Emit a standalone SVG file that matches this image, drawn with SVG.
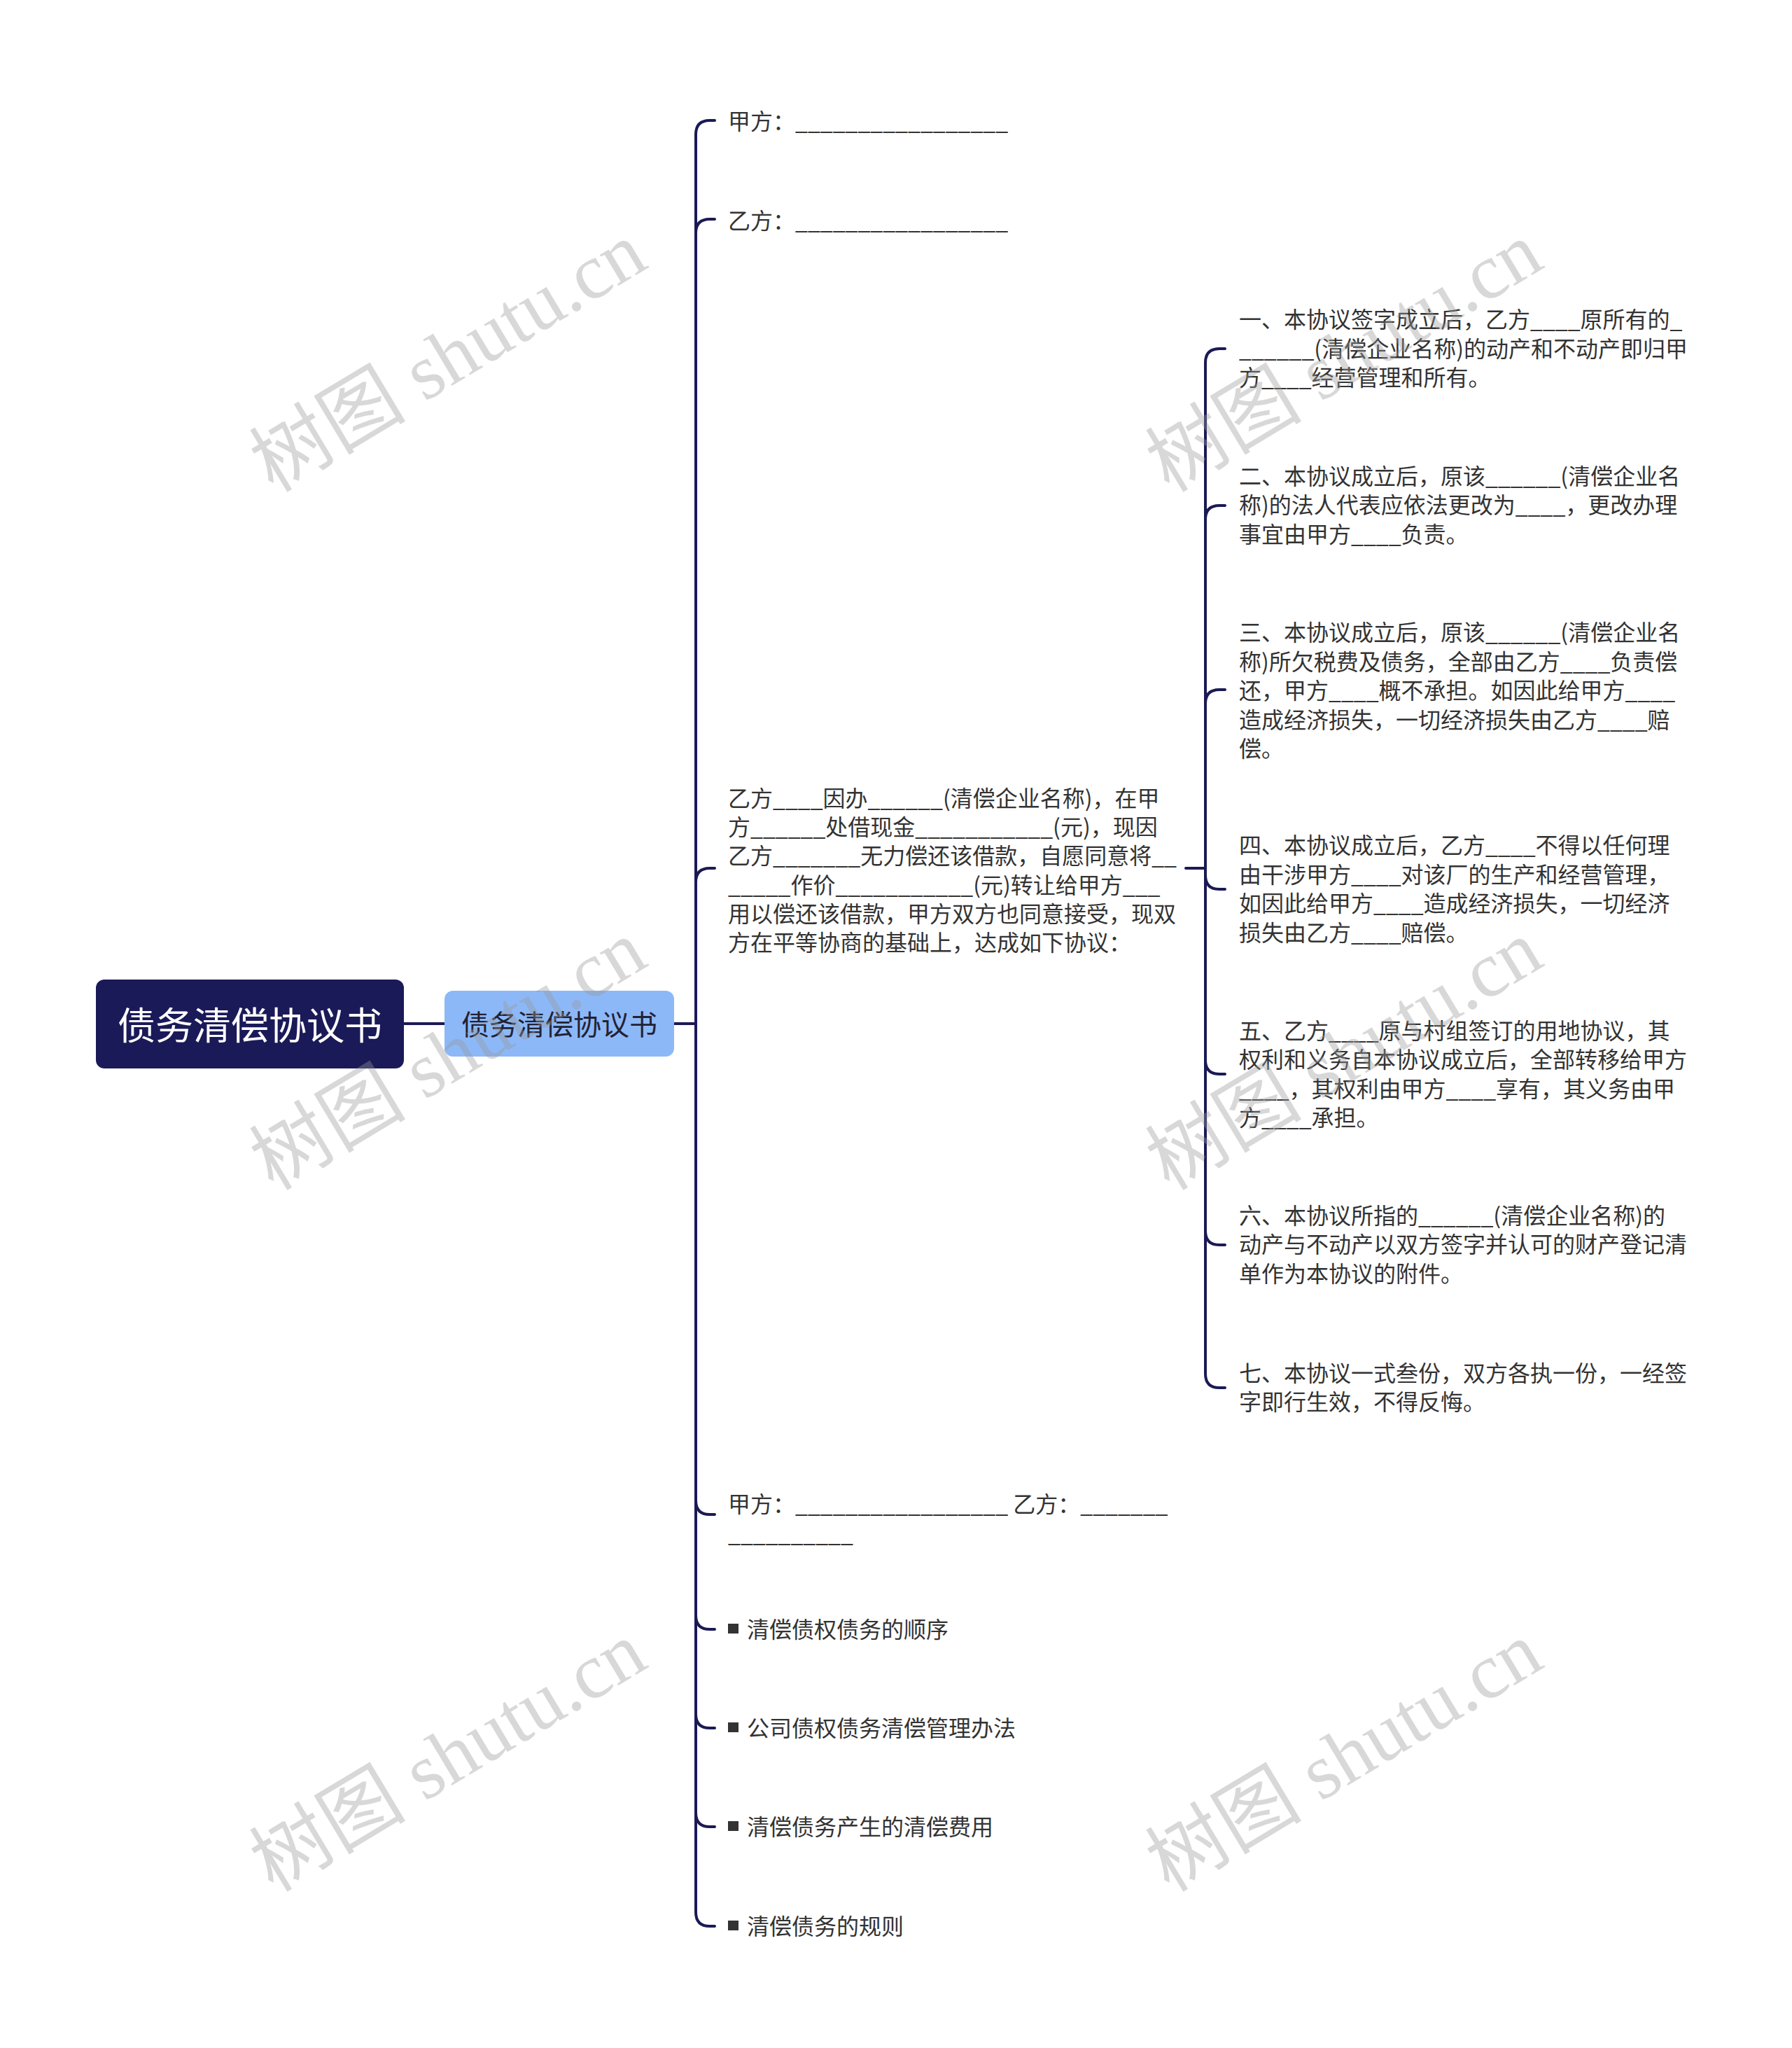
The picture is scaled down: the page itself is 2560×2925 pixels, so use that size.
<svg xmlns="http://www.w3.org/2000/svg" width="2560" height="2925" viewBox="0 0 2560 2925">
<style>
.bg{fill:#ffffff}
.conn{fill:none;stroke:#1b1a55;stroke-width:4;stroke-linecap:round;stroke-linejoin:round}
.t{font-family:"Noto Sans CJK SC","Noto Sans",sans-serif;font-size:32px;fill:#333333;dominant-baseline:central}
.root{font-family:"Noto Sans CJK SC","Noto Sans",sans-serif;font-size:54px;fill:#ffffff;dominant-baseline:central;text-anchor:middle}
.sub{font-family:"Noto Sans CJK SC","Noto Sans",sans-serif;font-size:40px;fill:#222233;dominant-baseline:central;text-anchor:middle}
.wm{font-family:"Liberation Serif","Noto Sans CJK SC",serif;font-size:112px;fill:#9a9a9a;opacity:0.38;dominant-baseline:central;text-anchor:middle}
.sq{fill:#333333}
</style>
<rect class="bg" x="0" y="0" width="2560" height="2925"/>

<g id="connectors">
<path class="conn" d="M577,1462 H635"/>
<path class="conn" d="M963,1462 H994"/>
<path class="conn" d="M994,1462 V192 Q994,172 1014,172 H1021"/>
<path class="conn" d="M994,1462 V333 Q994,313 1014,313 H1021"/>
<path class="conn" d="M994,1462 V1260 Q994,1240 1014,1240 H1021"/>
<path class="conn" d="M994,1462 V2143 Q994,2163 1014,2163 H1021"/>
<path class="conn" d="M994,1462 V2307 Q994,2327 1014,2327 H1021"/>
<path class="conn" d="M994,1462 V2448 Q994,2468 1014,2468 H1021"/>
<path class="conn" d="M994,1462 V2589 Q994,2609 1014,2609 H1021"/>
<path class="conn" d="M994,1462 V2731 Q994,2751 1014,2751 H1021"/>
<path class="conn" d="M1694,1240 H1722"/>
<path class="conn" d="M1722,1240 V518 Q1722,498 1742,498 H1750"/>
<path class="conn" d="M1722,1240 V742 Q1722,722 1742,722 H1750"/>
<path class="conn" d="M1722,1240 V1005 Q1722,985 1742,985 H1750"/>
<path class="conn" d="M1722,1240 V1250 Q1722,1270 1742,1270 H1750"/>
<path class="conn" d="M1722,1240 V1514 Q1722,1534 1742,1534 H1750"/>
<path class="conn" d="M1722,1240 V1758 Q1722,1778 1742,1778 H1750"/>
<path class="conn" d="M1722,1240 V1962 Q1722,1982 1742,1982 H1750"/>
</g>

<g id="root">
<rect x="137" y="1399" width="440" height="127" rx="12" fill="#1b1a58"/>
<text class="root" x="357" y="1461">债务清偿协议书</text>
</g>

<g id="n-main">
<rect x="635" y="1415" width="328" height="94" rx="12" fill="#8db8f8"/>
<text class="sub" x="799" y="1461">债务清偿协议书</text>
</g>

<g id="n-jiafang">
<text class="t" x="1040" y="171">甲方：_________________</text>
</g>
<g id="n-yifang">
<text class="t" x="1040" y="313">乙方：_________________</text>
</g>

<g id="n-para">
<text class="t" x="1040" y="1138">乙方____因办______(清偿企业名称)，在甲</text>
<text class="t" x="1040" y="1179">方______处借现金___________(元)，现因</text>
<text class="t" x="1040" y="1220">乙方_______无力偿还该借款，自愿同意将__</text>
<text class="t" x="1040" y="1262">_____作价___________(元)转让给甲方___</text>
<text class="t" x="1040" y="1303">用以偿还该借款，甲方双方也同意接受，现双</text>
<text class="t" x="1040" y="1344">方在平等协商的基础上，达成如下协议：</text>
</g>

<g id="n-1">
<text class="t" x="1770" y="454">一、本协议签字成立后，乙方____原所有的_</text>
<text class="t" x="1770" y="496">______(清偿企业名称)的动产和不动产即归甲</text>
<text class="t" x="1770" y="537">方____经营管理和所有。</text>
</g>
<g id="n-2">
<text class="t" x="1770" y="678">二、本协议成立后，原该______(清偿企业名</text>
<text class="t" x="1770" y="719">称)的法人代表应依法更改为____，更改办理</text>
<text class="t" x="1770" y="761">事宜由甲方____负责。</text>
</g>
<g id="n-3">
<text class="t" x="1770" y="901">三、本协议成立后，原该______(清偿企业名</text>
<text class="t" x="1770" y="943">称)所欠税费及债务，全部由乙方____负责偿</text>
<text class="t" x="1770" y="984">还，甲方____概不承担。如因此给甲方____</text>
<text class="t" x="1770" y="1026">造成经济损失，一切经济损失由乙方____赔</text>
<text class="t" x="1770" y="1067">偿。</text>
</g>
<g id="n-4">
<text class="t" x="1770" y="1205">四、本协议成立后，乙方____不得以任何理</text>
<text class="t" x="1770" y="1247">由干涉甲方____对该厂的生产和经营管理，</text>
<text class="t" x="1770" y="1288">如因此给甲方____造成经济损失，一切经济</text>
<text class="t" x="1770" y="1330">损失由乙方____赔偿。</text>
</g>
<g id="n-5">
<text class="t" x="1770" y="1470">五、乙方____原与村组签订的用地协议，其</text>
<text class="t" x="1770" y="1511">权利和义务自本协议成立后，全部转移给甲方</text>
<text class="t" x="1770" y="1553">____，其权利由甲方____享有，其义务由甲</text>
<text class="t" x="1770" y="1594">方____承担。</text>
</g>
<g id="n-6">
<text class="t" x="1770" y="1734">六、本协议所指的______(清偿企业名称)的</text>
<text class="t" x="1770" y="1775">动产与不动产以双方签字并认可的财产登记清</text>
<text class="t" x="1770" y="1817">单作为本协议的附件。</text>
</g>
<g id="n-7">
<text class="t" x="1770" y="1959">七、本协议一式叁份，双方各执一份，一经签</text>
<text class="t" x="1770" y="2000">字即行生效，不得反悔。</text>
</g>

<g id="n-sign">
<text class="t" x="1040" y="2146">甲方：_________________ 乙方：_______</text>
<text class="t" x="1040" y="2188">__________</text>
</g>

<g id="n-b1">
<rect class="sq" x="1040" y="2319" width="15" height="14"/>
<text class="t" x="1067" y="2325">清偿债权债务的顺序</text>
</g>
<g id="n-b2">
<rect class="sq" x="1040" y="2460" width="15" height="14"/>
<text class="t" x="1067" y="2466">公司债权债务清偿管理办法</text>
</g>
<g id="n-b3">
<rect class="sq" x="1040" y="2601" width="15" height="14"/>
<text class="t" x="1067" y="2607">清偿债务产生的清偿费用</text>
</g>
<g id="n-b4">
<rect class="sq" x="1040" y="2743" width="15" height="14"/>
<text class="t" x="1067" y="2749">清偿债务的规则</text>
</g>

<g id="watermarks">
<text class="wm" transform="translate(640,510) rotate(-31)">树图 shutu.cn</text>
<text class="wm" transform="translate(1920,510) rotate(-31)">树图 shutu.cn</text>
<text class="wm" transform="translate(640,1507) rotate(-31)">树图 shutu.cn</text>
<text class="wm" transform="translate(1920,1507) rotate(-31)">树图 shutu.cn</text>
<text class="wm" transform="translate(640,2509) rotate(-31)">树图 shutu.cn</text>
<text class="wm" transform="translate(1920,2509) rotate(-31)">树图 shutu.cn</text>
</g>
</svg>
